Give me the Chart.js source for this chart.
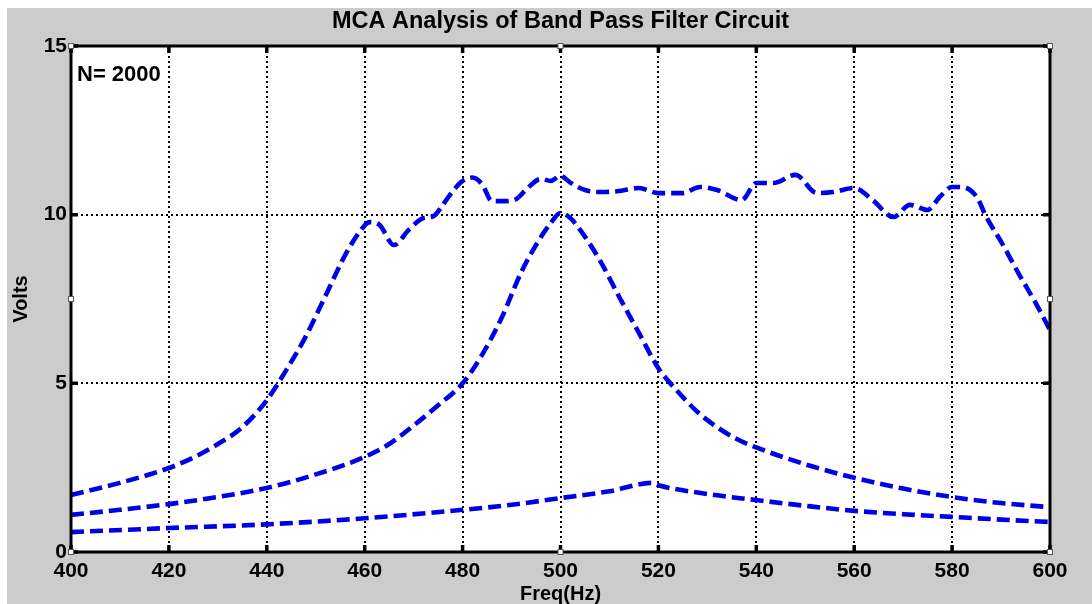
<!DOCTYPE html>
<html>
<head>
<meta charset="utf-8">
<script src="https://cdn.jsdelivr.net/npm/chart.js@4.4.0/dist/chart.umd.min.js"></script>
<style>
  html, body { margin: 0; padding: 0; background: #fff; }
  canvas { display: block; }
</style>
</head>
<body>
<canvas id="mcaChart" width="1092" height="604"></canvas>
<script>
// Monte Carlo sweep of the band pass filter: three response envelopes
const upperFreq = [400, 410, 420, 425, 430, 435, 440, 444, 448, 452, 456, 459, 461, 463, 466, 469, 472, 474,
  476, 478, 480, 482, 484, 486, 488, 491, 493, 496, 498, 500, 502, 505, 508, 512, 516, 520, 525, 528.5,
  532, 537, 540, 543.5, 548, 552.4, 555.7, 560, 563.8, 568, 571.4, 575, 577.5, 580, 582, 585, 587, 590,
  594, 597, 600];
const upperVolts = [1.69, 2.05, 2.49, 2.8, 3.2, 3.7, 4.5, 5.4, 6.4, 7.6, 8.8, 9.5, 9.78, 9.7, 9.1, 9.55, 9.9, 9.95,
  10.3, 10.7, 11.0, 11.1, 10.9, 10.4, 10.4, 10.47, 10.75, 11.06, 11.0, 11.15, 10.95, 10.73, 10.67, 10.7,
  10.79, 10.64, 10.64, 10.82, 10.73, 10.43, 10.94, 10.94, 11.18, 10.64, 10.67, 10.79, 10.43, 9.93, 10.29,
  10.14, 10.53, 10.82, 10.82, 10.53, 9.93, 9.2, 8.15, 7.4, 6.58];

const nominalFreq = [400, 410, 420, 430, 440, 450, 460, 465, 470, 475, 480, 484, 488, 492, 495, 498, 500, 502,
  504, 508, 512, 516, 520, 524, 528, 532, 536, 540, 550, 560, 570, 580, 590, 600];
const nominalVolts = [1.1, 1.25, 1.42, 1.63, 1.9, 2.3, 2.82, 3.2, 3.75, 4.35, 5.0, 5.85, 6.95, 8.3, 9.1, 9.75,
  10.05, 9.9, 9.55, 8.66, 7.56, 6.5, 5.45, 4.75, 4.15, 3.7, 3.35, 3.1, 2.6, 2.2, 1.88, 1.63, 1.45, 1.33];

const lowerFreq = [400, 420, 440, 460, 480, 490, 500, 510, 518.7, 520, 530, 540, 550, 560, 570, 580, 590, 600];
const lowerVolts = [0.59, 0.71, 0.82, 1.0, 1.25, 1.4, 1.6, 1.8, 2.05, 1.98, 1.72, 1.54, 1.37, 1.22, 1.12, 1.04,
  0.96, 0.89];

const freqTicks = [400, 420, 440, 460, 480, 500, 520, 540, 560, 580, 600];
const voltTicks = [0, 5, 10, 15];
const sampleCount = 2000;

const FONT = "'Liberation Sans', Arial, sans-serif";
const LINE_BLUE = 'rgb(0, 0, 230)';

function toPoints(xs, ys) {
  return xs.map((x, i) => ({ x: x, y: ys[i] }));
}

function curve(xs, ys) {
  return {
    data: toPoints(xs, ys),
    borderColor: LINE_BLUE,
    borderWidth: 4.6,
    borderDash: [13, 6],
    pointRadius: 0,
    fill: false,
    cubicInterpolationMode: 'monotone'
  };
}

// grey figure, white axes, MATLAB-style box, inward ticks, selection handles
const figurePlugin = {
  id: 'figure',
  beforeDraw(chart) {
    const { ctx, chartArea: a } = chart;
    ctx.save();
    ctx.fillStyle = '#ffffff';
    ctx.fillRect(0, 0, chart.width, chart.height);
    ctx.fillStyle = '#cccccc';
    ctx.fillRect(7, 8, chart.width - 7, chart.height - 8);
    ctx.fillStyle = '#ffffff';
    ctx.fillRect(a.left, a.top, a.right - a.left, a.bottom - a.top);
    ctx.restore();
  },
  afterDraw(chart) {
    const { ctx, chartArea: a, scales } = chart;
    const xs = scales.x, ys = scales.y;
    ctx.save();

    // inward tick marks
    ctx.strokeStyle = '#000';
    ctx.lineWidth = 3.5;
    ctx.beginPath();
    freqTicks.forEach(v => {
      const px = xs.getPixelForValue(v);
      ctx.moveTo(px, a.bottom); ctx.lineTo(px, a.bottom - 7);
      ctx.moveTo(px, a.top); ctx.lineTo(px, a.top + 7);
    });
    voltTicks.forEach(v => {
      const py = ys.getPixelForValue(v);
      ctx.moveTo(a.left, py); ctx.lineTo(a.left + 7, py);
      ctx.moveTo(a.right, py); ctx.lineTo(a.right - 7, py);
    });
    ctx.stroke();

    // axes box
    ctx.lineWidth = 3;
    ctx.strokeRect(a.left, a.top, a.right - a.left, a.bottom - a.top);

    // selection handles
    const midX = (a.left + a.right) / 2, midY = (a.top + a.bottom) / 2;
    const handles = [[a.left, a.top], [midX, a.top], [a.right, a.top], [a.left, midY],
      [a.right, midY], [a.left, a.bottom], [midX, a.bottom], [a.right, a.bottom]];
    ctx.lineWidth = 1;
    ctx.strokeStyle = '#555';
    ctx.fillStyle = '#ffffff';
    handles.forEach(([hx, hy]) => {
      ctx.fillRect(hx - 2.5, hy - 2.5, 5, 5);
      ctx.strokeRect(hx - 2.5, hy - 2.5, 5, 5);
    });

    // sample count note and title
    ctx.fillStyle = '#000';
    ctx.font = 'bold 22px ' + FONT;
    ctx.textAlign = 'left';
    ctx.textBaseline = 'alphabetic';
    ctx.fillText('N= ' + sampleCount, a.left + 6, a.top + 35);

    ctx.font = "bold 23.5px 'Liberation Sans Narrow', " + FONT;
    ctx.textAlign = 'center';
    ctx.fillText('MCA Analysis of Band Pass Filter Circuit', midX, 28);
    ctx.restore();
  }
};

new Chart(document.getElementById('mcaChart'), {
  type: 'line',
  data: {
    datasets: [
      curve(upperFreq, upperVolts),
      curve(nominalFreq, nominalVolts),
      curve(lowerFreq, lowerVolts)
    ]
  },
  options: {
    responsive: false,
    animation: false,
    layout: { padding: { left: 7, top: 46, right: 42, bottom: 0 } },
    plugins: {
      legend: { display: false },
      tooltip: { enabled: false }
    },
    scales: {
      x: {
        type: 'linear',
        min: 400,
        max: 600,
        afterBuildTicks: s => { s.ticks = freqTicks.map(v => ({ value: v })); },
        afterFit: s => { s.height = 52; },
        grid: { color: '#000', lineWidth: 2, drawTicks: false },
        border: { display: false, dash: [2, 3] },
        ticks: { color: '#000', padding: 7, maxRotation: 0, font: { family: FONT, size: 21, weight: 'bold' } },
        title: {
          display: true, text: 'Freq(Hz)', color: '#000', padding: { top: 2, bottom: 0 },
          font: { family: FONT, size: 20, weight: 'bold', lineHeight: 1 }
        }
      },
      y: {
        min: 0,
        max: 15,
        afterBuildTicks: s => { s.ticks = voltTicks.map(v => ({ value: v })); },
        afterFit: s => { s.width = 64; },
        grid: { color: '#000', lineWidth: 2, drawTicks: false },
        border: { display: false, dash: [2, 3] },
        ticks: { color: '#000', padding: 4, font: { family: FONT, size: 21, weight: 'bold' } },
        title: {
          display: true, text: 'Volts', color: '#000', padding: { top: 4, bottom: 0 },
          font: { family: FONT, size: 20, weight: 'bold', lineHeight: 1 }
        }
      }
    }
  },
  plugins: [figurePlugin]
});
</script>
</body>
</html>
